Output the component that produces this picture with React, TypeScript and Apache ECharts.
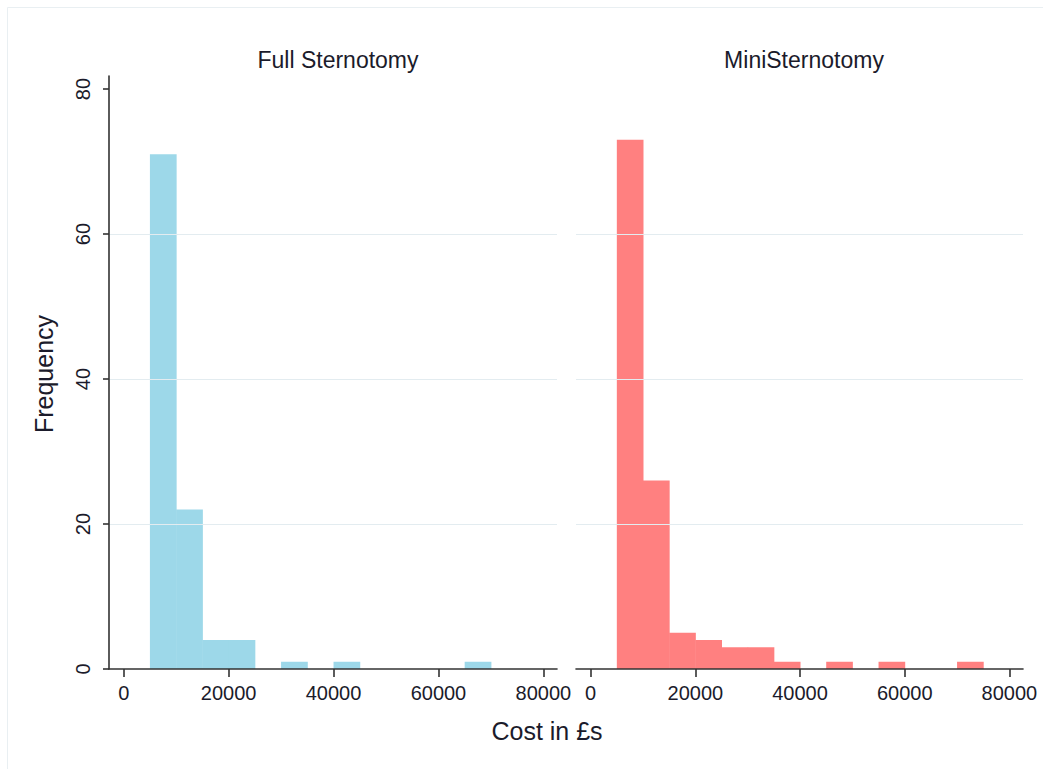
import React, { useEffect, useRef } from "react";
import * as echarts from "echarts";

const panelTitles = ["Full Sternotomy", "MiniSternotomy"];
const binWidth = 5000;
const fullBinStarts = [5000, 10000, 15000, 20000, 30000, 40000, 65000];
const fullCounts = [71, 22, 4, 4, 1, 1, 1];
const miniBinStarts = [5000, 10000, 15000, 20000, 25000, 30000, 35000, 45000, 55000, 70000];
const miniCounts = [73, 26, 5, 4, 3, 3, 1, 1, 1, 1];
const xTicks = [0, 20000, 40000, 60000, 80000];
const yTicks = [0, 20, 40, 60, 80];
const xTitle = "Cost in £s";
const yTitle = "Frequency";

const FONT = "'Liberation Sans', Arial, sans-serif";
const TEXT = "#1b1b2b";
const AXIS = "#333333";
const GRIDC = "#e3ecf0";

export default function App() {
  const ref = useRef<HTMLDivElement>(null);
  useEffect(() => {
    if (!ref.current) return;
    const chart = echarts.init(ref.current, undefined, { renderer: "svg" });
    const grids = [
      { left: 109, top: 76, width: 448, height: 593 },
      { left: 576, top: 76, width: 447, height: 593 },
    ];
    const mkX = (i: number) => ({
      type: "value",
      gridIndex: i,
      min: -2800,
      max: 82600,
      z: 5,
      axisLine: { show: true, onZero: false, lineStyle: { color: AXIS, width: 1.6 } },
      axisTick: { show: true, customValues: xTicks, length: 8, lineStyle: { color: AXIS, width: 1.6 } },
      axisLabel: {
        customValues: xTicks,
        margin: 14,
        fontSize: 20,
        fontFamily: FONT,
        color: TEXT,
        formatter: (v: number) => String(v),
      },
      splitLine: { show: false },
    });
    const mkY = (i: number) => ({
      type: "value",
      gridIndex: i,
      min: 0,
      max: 81.8,
      interval: 20,
      z: 5,
      axisLine: { show: i === 0, onZero: false, lineStyle: { color: AXIS, width: 1.6 } },
      axisTick: { show: i === 0, customValues: yTicks, length: 6, lineStyle: { color: AXIS, width: 1.6 } },
      axisLabel: {
        show: i === 0,
        customValues: yTicks,
        rotate: 90,
        margin: 16,
        fontSize: 20,
        fontFamily: FONT,
        color: TEXT,
        formatter: (v: number) => String(v),
      },
      splitLine: { show: true, showMinLine: false, showMaxLine: false, lineStyle: { color: GRIDC, width: 1 } },
    });
    const mkSeries = (i: number, starts: number[], counts: number[], fill: string) => ({
      type: "custom",
      xAxisIndex: i,
      yAxisIndex: i,
      z: 2,
      encode: { x: [0, 1], y: 2 },
      data: starts.map((s, k) => [s, s + binWidth, counts[k]]),
      renderItem: (params: any, api: any) => {
        const p0 = api.coord([api.value(0), api.value(2)]);
        const p1 = api.coord([api.value(1), 0]);
        return {
          type: "rect",
          shape: { x: p0[0], y: p0[1], width: p1[0] - p0[0] + 0.5, height: p1[1] - p0[1] },
          style: { fill, stroke: "none" },
        };
      },
    });
    chart.setOption({
      animation: false,
      backgroundColor: "#ffffff",
      title: [
        {
          text: panelTitles[0],
          left: 333,
          top: 43,
          textAlign: "center",
          textStyle: { fontSize: 23, fontWeight: "normal", fontFamily: FONT, color: TEXT },
        },
        {
          text: panelTitles[1],
          left: 799,
          top: 43,
          textAlign: "center",
          textStyle: { fontSize: 23, fontWeight: "normal", fontFamily: FONT, color: TEXT },
        },
      ],
      grid: grids,
      xAxis: [mkX(0), mkX(1)],
      yAxis: [mkY(0), mkY(1)],
      series: [
        mkSeries(0, fullBinStarts, fullCounts, "#9dd8e9"),
        mkSeries(1, miniBinStarts, miniCounts, "#ff8080"),
      ],
      graphic: [
        {
          type: "line",
          shape: { x1: 7.5, y1: 7.5, x2: 1043, y2: 7.5 },
          style: { stroke: "#e9eff2", lineWidth: 1 },
        },
        {
          type: "line",
          shape: { x1: 7.5, y1: 7.5, x2: 7.5, y2: 769 },
          style: { stroke: "#e9eff2", lineWidth: 1 },
        },
        {
          type: "text",
          x: 547,
          y: 731,
          style: {
            text: xTitle,
            fontSize: 25,
            fontFamily: FONT,
            fill: TEXT,
            align: "center",
            verticalAlign: "middle",
          },
        },
        {
          type: "text",
          x: 44,
          y: 374,
          rotation: Math.PI / 2,
          style: {
            text: yTitle,
            fontSize: 25,
            fontFamily: FONT,
            fill: TEXT,
            align: "center",
            verticalAlign: "middle",
          },
        },
      ],
    });
    return () => chart.dispose();
  }, []);
  return (
    <div
      ref={ref}
      style={{ position: "fixed", left: 0, top: 0, width: 1051, height: 769, background: "#fff" }}
    />
  );
}
